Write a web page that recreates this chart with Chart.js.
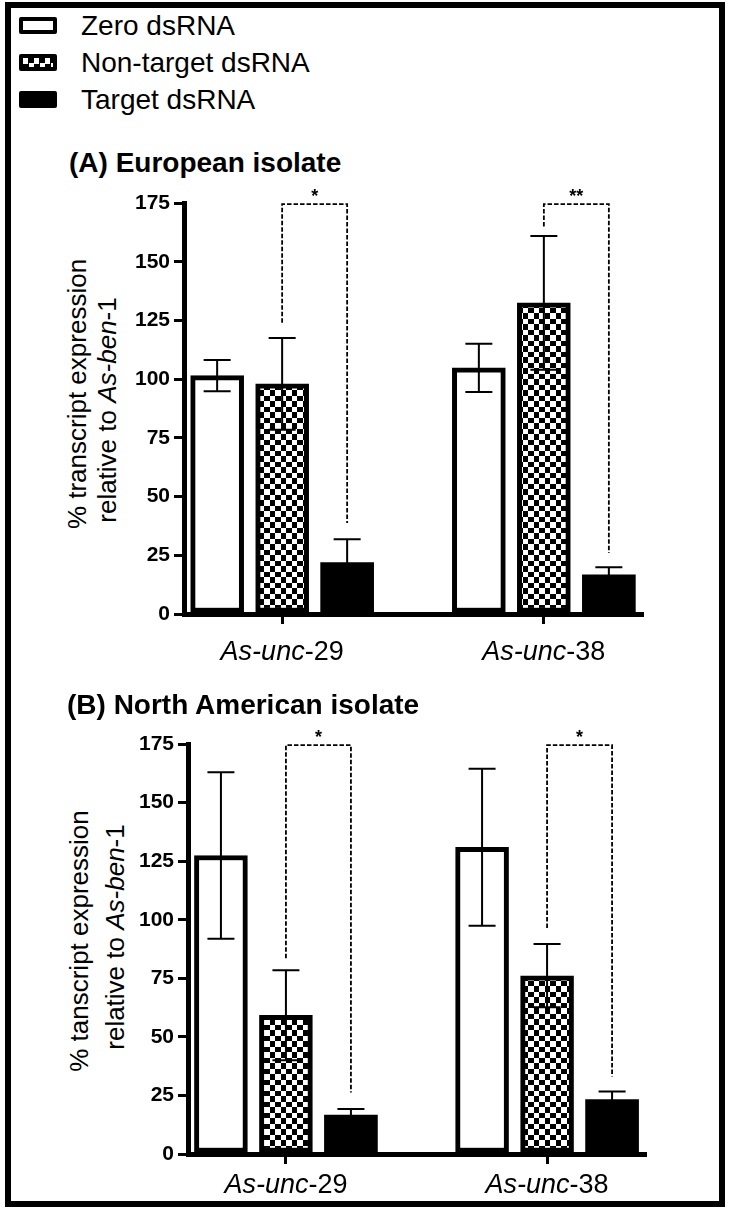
<!DOCTYPE html>
<html>
<head>
<meta charset="utf-8">
<title>Transcript expression after dsRNA soaking</title>
<script src="https://cdn.jsdelivr.net/npm/chart.js@4.4.1/dist/chart.umd.min.js"></script>
<style>
  html, body { margin: 0; padding: 0; background: #fff; }
  body {
    width: 731px; height: 1215px; position: relative; overflow: hidden;
    font-family: 'Liberation Sans', Arial, Helvetica, sans-serif; color: #000;
  }
  .frame {
    position: absolute; left: 5px; top: 2px; width: 720px; height: 1205px;
    border: 6.5px solid #000; box-sizing: border-box;
  }
  .key {
    position: absolute; left: 19px; width: 38px; height: 17px;
    box-sizing: border-box; border: 4px solid #000; border-radius: 2px;
  }
  .key-0 { background: #fff; }
  .key-1 { background: repeating-conic-gradient(#000 0% 25%, #fff 0% 50%) 0 0 / 11px 11px; }
  .key-2 { background: #000; }
  .key-text { position: absolute; left: 81px; font-size: 28px; line-height: 28px; white-space: nowrap; }
  .title { position: absolute; font-size: 28px; line-height: 28px; font-weight: bold; white-space: nowrap; }
  .ytitle {
    position: absolute; font-size: 26px; line-height: 26px; white-space: nowrap;
    transform: translate(-50%, -50%) rotate(-90deg);
  }
  canvas { position: absolute; left: 0; }
</style>
</head>
<body>
<div class="frame"></div>
<div id="legend"></div>

<div class="title" style="left:69px; top:149px;">(A) European isolate</div>
<div class="ytitle" style="left:77px; top:394px;">% transcript expression</div>
<div class="ytitle" style="left:107px; top:410px;">relative to <i>As-ben</i>-1</div>
<canvas id="chartA" width="731" height="520" style="top:170px;"></canvas>

<div class="title" style="left:67px; top:691px;">(B) North American isolate</div>
<div class="ytitle" style="left:79px; top:941px;">% tanscript expression</div>
<div class="ytitle" style="left:115px; top:937px;">relative to <i>As-ben</i>-1</div>
<canvas id="chartB" width="731" height="515" style="top:700px;"></canvas>

<script>
var categories = ['As-unc-29', 'As-unc-38'];
var seriesNames = ['Zero dsRNA', 'Non-target dsRNA', 'Target dsRNA'];
var yTickValues = [0, 25, 50, 75, 100, 125, 150, 175];

// (A) European isolate, mean and SD per gene
var euZero = [101.5, 104.8];
var euZeroSd = [6.7, 10.3];
var euNonTarget = [98.0, 132.5];
var euNonTargetSd = [19.5, 28.5];
var euTarget = [21.9, 16.7];
var euTargetSd = [9.9, 3.2];
// significance brackets (non-target vs target)
var euBracketFrom = [124, 165];
var euBracketTo = [38.8, 26];
var euStars = ['*', '**'];

// (B) North American isolate
var naZero = [127.4, 130.9];
var naZeroSd = [35.5, 33.5];
var naNonTarget = [59.2, 76.1];
var naNonTargetSd = [19.2, 13.5];
var naTarget = [16.6, 23.2];
var naTargetSd = [2.6, 3.5];
var naBracketFrom = [83.6, 96.5];
var naBracketTo = [26.3, 33.1];
var naStars = ['*', '*'];

var bracketTop = 174.5;

var FONT = "'Liberation Sans', Arial, Helvetica, sans-serif";

function makeChecker() {
  // 22px tile = 2 periods of ~5.5px squares, kept on whole pixels
  var c = document.createElement('canvas');
  c.width = 22; c.height = 22;
  var g = c.getContext('2d');
  var edges = [0, 6, 11, 17, 22];
  g.fillStyle = '#fff';
  g.fillRect(0, 0, 22, 22);
  g.fillStyle = '#000';
  for (var r = 0; r < 4; r++) {
    for (var k = 0; k < 4; k++) {
      if ((r + k) % 2 === 1) g.fillRect(edges[k], edges[r], edges[k + 1] - edges[k], edges[r + 1] - edges[r]);
    }
  }
  return g.createPattern(c, 'repeat');
}

function buildLegend() {
  var box = document.getElementById('legend');
  seriesNames.forEach(function (name, s) {
    var capMid = 25.5 + s * 37.2;
    var key = document.createElement('div');
    key.className = 'key key-' + s;
    key.style.top = (capMid - 8.5) + 'px';
    var txt = document.createElement('div');
    txt.className = 'key-text';
    txt.style.top = (capMid - 14) + 'px';
    txt.textContent = name;
    box.appendChild(key);
    box.appendChild(txt);
  });
}

function drawErrorBars(chart, p) {
  var ctx = chart.ctx;
  var y = chart.scales.y;
  ctx.save();
  ctx.strokeStyle = '#000';
  ctx.lineWidth = 2;
  p.means.forEach(function (vals, s) {
    var meta = chart.getDatasetMeta(s);
    vals.forEach(function (v, i) {
      var cx = meta.data[i].x;
      var hi = y.getPixelForValue(v + p.sds[s][i]);
      var lo = y.getPixelForValue(v - p.sds[s][i]);
      ctx.beginPath();
      ctx.moveTo(cx, hi); ctx.lineTo(cx, lo);
      ctx.moveTo(cx - 13.5, hi); ctx.lineTo(cx + 13.5, hi);
      ctx.moveTo(cx - 13.5, lo); ctx.lineTo(cx + 13.5, lo);
      ctx.stroke();
    });
  });
  ctx.restore();
}

function drawBrackets(chart, p) {
  var ctx = chart.ctx;
  var y = chart.scales.y;
  var from = chart.getDatasetMeta(1);
  var to = chart.getDatasetMeta(2);
  var yTop = y.getPixelForValue(bracketTop);
  ctx.save();
  ctx.strokeStyle = '#000';
  ctx.lineWidth = 1.8;
  ctx.setLineDash([4.5, 2]);
  p.bracketFrom.forEach(function (v, i) {
    var x1 = from.data[i].x;
    var x2 = to.data[i].x;
    ctx.beginPath();
    ctx.moveTo(x1, y.getPixelForValue(v));
    ctx.lineTo(x1, yTop);
    ctx.lineTo(x2, yTop);
    ctx.lineTo(x2, y.getPixelForValue(p.bracketTo[i]));
    ctx.stroke();
  });
  ctx.setLineDash([]);
  ctx.fillStyle = '#000';
  ctx.font = 'bold 18px ' + FONT;
  ctx.textAlign = 'center';
  ctx.textBaseline = 'alphabetic';
  p.stars.forEach(function (st, i) {
    ctx.fillText(st, (from.data[i].x + to.data[i].x) / 2, yTop - 2);
  });
  ctx.restore();
}

function drawCategoryLabels(chart, p) {
  // gene names: italic locus name, upright number
  var ctx = chart.ctx;
  var x = chart.scales.x;
  ctx.save();
  ctx.fillStyle = '#000';
  ctx.textAlign = 'left';
  ctx.textBaseline = 'alphabetic';
  categories.forEach(function (lab, i) {
    var k = lab.lastIndexOf('-');
    var parts = [[lab.slice(0, k), 'italic '], [lab.slice(k), '']];
    var widths = parts.map(function (pt) {
      ctx.font = pt[1] + '27px ' + FONT;
      return ctx.measureText(pt[0]).width;
    });
    var px = x.getPixelForValue(i + 1) - (widths[0] + widths[1]) / 2;
    var by = chart.chartArea.bottom + p.labelOffset;
    parts.forEach(function (pt, j) {
      ctx.font = pt[1] + '27px ' + FONT;
      ctx.fillText(pt[0], px, by);
      px += widths[j];
    });
  });
  ctx.restore();
}

function buildPanel(id, p) {
  var fills = ['#ffffff', makeChecker(), '#000000'];
  var borders = [5, 5, 0];
  var datasets = p.means.map(function (vals, s) {
    return {
      label: seriesNames[s],
      data: vals.map(function (v, i) { return { x: i + 1, y: v }; }),
      backgroundColor: fills[s],
      borderColor: '#000',
      borderWidth: borders[s],
      borderSkipped: false,
      barThickness: 65,
      maxBarThickness: 53,
    };
  });

  return new Chart(document.getElementById(id).getContext('2d'), {
    type: 'bar',
    data: { datasets: datasets },
    options: {
      responsive: false,
      animation: false,
      layout: { padding: { left: 0, right: p.padRight, top: p.padTop, bottom: 0 } },
      plugins: { legend: { display: false }, tooltip: { enabled: false } },
      scales: {
        x: {
          type: 'linear',
          min: 0.625,
          max: 2.375,
          offset: false,
          afterBuildTicks: function (s) {
            s.ticks = categories.map(function (c, i) { return { value: i + 1 }; });
          },
          afterFit: function (s) { s.height = p.xHeight; },
          ticks: { display: false },
          grid: { offset: false, drawOnChartArea: false, drawTicks: true, tickLength: 10, lineWidth: 3, color: '#000' },
          border: { display: true, width: 5, color: '#000' },
        },
        y: {
          min: 0,
          max: 175,
          afterBuildTicks: function (s) {
            s.ticks = yTickValues.map(function (v) { return { value: v }; });
          },
          afterFit: function (s) { s.width = p.yWidth; },
          ticks: { color: '#000', padding: 4, font: { family: FONT, size: 21, weight: 'bold' } },
          grid: { drawOnChartArea: false, drawTicks: true, tickLength: 10, lineWidth: 3, color: '#000' },
          border: { display: true, width: 5, color: '#000' },
        },
      },
    },
    plugins: [{
      id: 'panelMarks',
      afterDatasetsDraw: function (chart) {
        drawErrorBars(chart, p);
        drawBrackets(chart, p);
      },
      afterDraw: function (chart) { drawCategoryLabels(chart, p); },
    }],
  });
}

buildLegend();

buildPanel('chartA', {
  means: [euZero, euNonTarget, euTarget],
  sds: [euZeroSd, euNonTargetSd, euTargetSd],
  bracketFrom: euBracketFrom,
  bracketTo: euBracketTo,
  stars: euStars,
  yWidth: 184, padRight: 89, padTop: 33, xHeight: 76, labelOffset: 46,
});

buildPanel('chartB', {
  means: [naZero, naNonTarget, naTarget],
  sds: [naZeroSd, naNonTargetSd, naTargetSd],
  bracketFrom: naBracketFrom,
  bracketTo: naBracketTo,
  stars: naStars,
  yWidth: 188, padRight: 86, padTop: 44, xHeight: 61, labelOffset: 39,
});
</script>
</body>
</html>
